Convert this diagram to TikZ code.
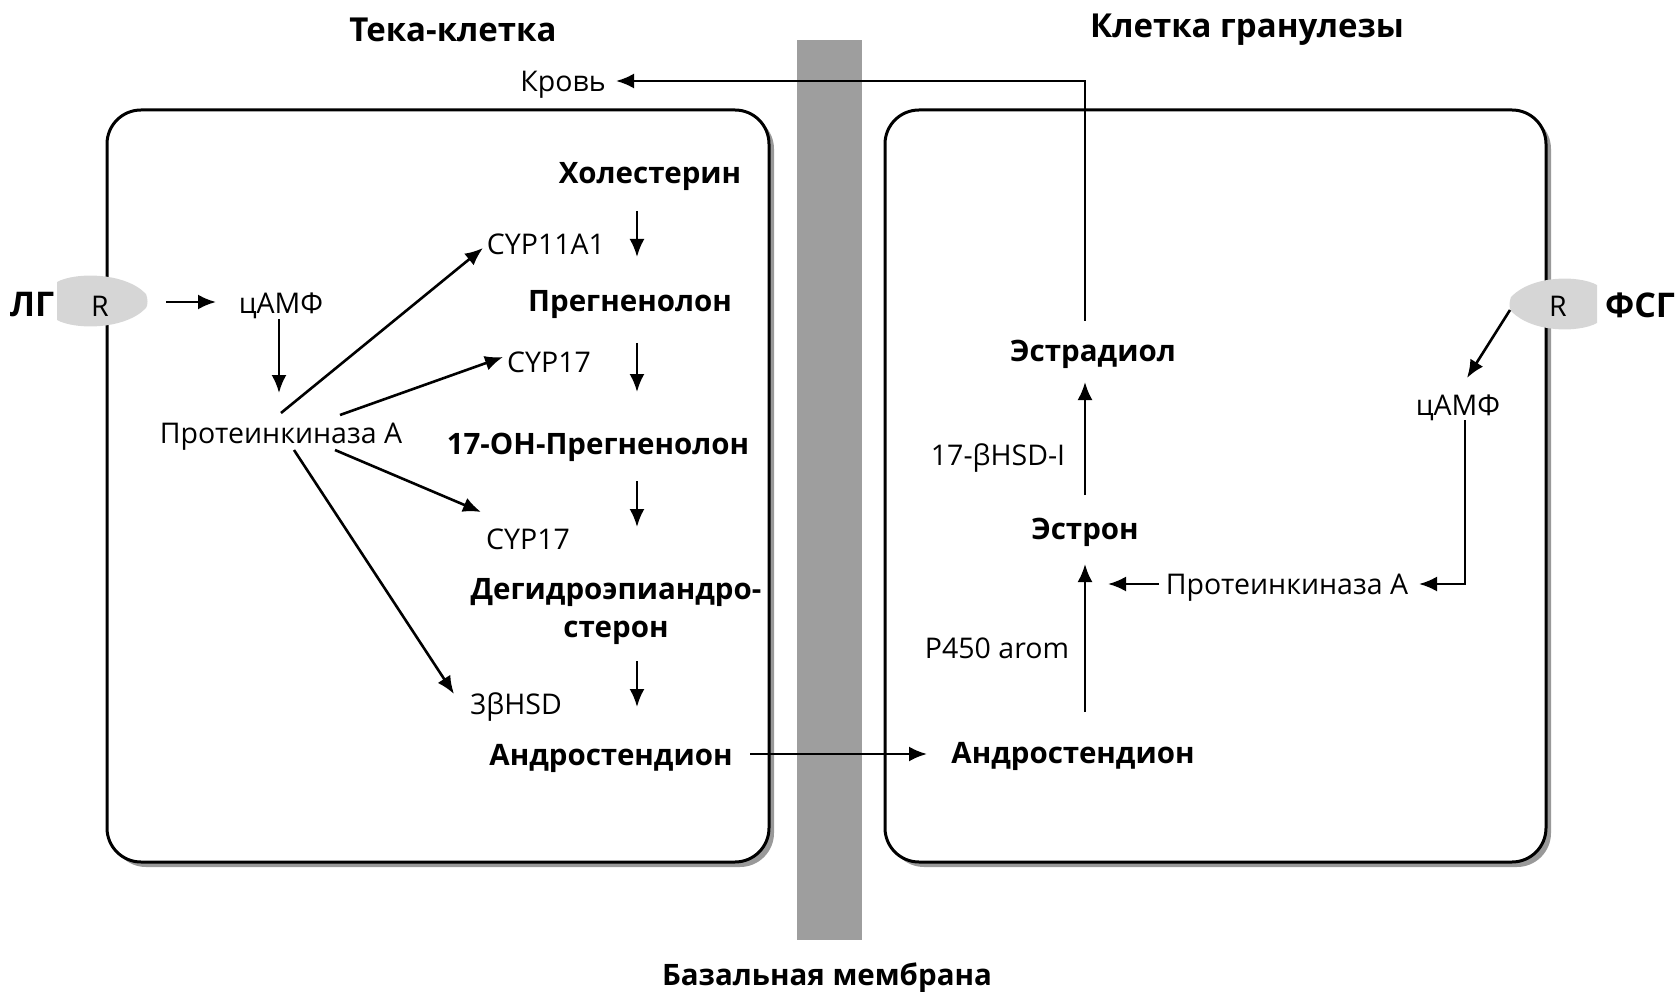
\documentclass[tikz,border=0pt]{standalone}
\usepackage{fontspec}
\setmainfont{Open Sans}
\usetikzlibrary{arrows.meta}
\begin{document}
\begin{tikzpicture}[x=1pt,y=-1pt,
  lbl/.style={font=\fontsize{28.5}{34}\selectfont, inner sep=0pt},
  met/.style={font=\fontsize{29.5}{38}\selectfont\bfseries, inner sep=0pt, align=center},
  ttl/.style={font=\fontsize{33}{38}\selectfont\bfseries, inner sep=0pt},
  hormone/.style={font=\fontsize{34}{38}\selectfont\bfseries, inner sep=0pt},
  arr/.style={line width=2.6pt, -{Latex[length=18pt,width=15pt]}},
  cell/.style={line width=3pt, rounded corners=34pt, fill=white},
  cellshadow/.style={fill=black!40, rounded corners=34pt},
  receptor/.style={fill=black!16},
]
\useasboundingbox (0,0) rectangle (1679,992);

% basal membrane
\fill[black!38] (797,40) rectangle (862,940);

% theca and granulosa cells with a drop shadow
\fill[cellshadow] (112,115) rectangle (774,867);
\draw[cell] (107,110) rectangle (769,862);
\fill[cellshadow] (890,115) rectangle (1551,867);
\draw[cell] (885,110) rectangle (1546,862);

% receptors in the cell membranes
\fill[receptor] (57,282) .. controls (75,272) and (125,272) .. (146,294)
  .. controls (148,299) and (148,305) .. (146,308)
  .. controls (125,330) and (75,330) .. (57,320) -- cycle;
\fill[receptor] (1597,285) .. controls (1579,275) and (1532,275) .. (1511,297)
  .. controls (1509,302) and (1509,308) .. (1511,311)
  .. controls (1532,333) and (1579,333) .. (1597,323) -- cycle;

% titles
\node[ttl] (tTheca) at (453,30) {Тека-клетка};
\node[ttl] (tGran) at (1247,30) {Клетка гранулезы};
\node[met] (tMemb) at (827,978) {Базальная мембрана};

% theca cell
\node[hormone] (lh) at (32,305) {ЛГ};
\node[lbl] (r1) at (100,306) {R};
\node[lbl] (camp1) at (281,306) {цАМФ};
\node[lbl] (pka1) at (281,437) {Протеинкиназа A};
\node[met] (chol) at (650,177) {Холестерин};
\node[lbl] (cyp11) at (546,244) {CYP11A1};
\node[met] (preg) at (630,305) {Прегненолон};
\node[lbl] (cyp17a) at (549,362) {CYP17};
\node[met] (ohpreg) at (598,447) {17-OH-Прегненолон};
\node[lbl] (cyp17b) at (528,539) {CYP17};
\node[met] (dhea) at (616,612) {Дегидроэпиандро-\\стерон};
\node[lbl] (hsd3) at (516,707) {3βHSD};
\node[met] (andro1) at (611,758) {Андростендион};
\node[lbl] (blood) at (563,85) {Кровь};

% granulosa cell
\node[met] (andro2) at (1073,756) {Андростендион};
\node[lbl] (p450) at (997,648) {P450 arom};
\node[met] (estrone) at (1085,532) {Эстрон};
\node[lbl] (hsd17) at (998,458) {17-βHSD-I};
\node[met] (estradiol) at (1093,354) {Эстрадиол};
\node[lbl] (pka2) at (1287,588) {Протеинкиназа A};
\node[lbl] (camp2) at (1458,408) {цАМФ};
\node[lbl] (r2) at (1558,306) {R};
\node[hormone] (fsh) at (1640,305) {ФСГ};

% arrow end points
\coordinate (lhA) at (166,302);   \coordinate (lhB) at (216,302);
\coordinate (c1A) at (279,319);   \coordinate (c1B) at (279,393);
\coordinate (kA) at (281,413);    \coordinate (kB) at (483,248);
\coordinate (kC) at (340,415);    \coordinate (kD) at (503,357);
\coordinate (kE) at (335,450);    \coordinate (kF) at (481,512);
\coordinate (kG) at (294,450);    \coordinate (kH) at (454,694);
\coordinate (s1A) at (637,211);   \coordinate (s1B) at (637,257);
\coordinate (s2A) at (637,343);   \coordinate (s2B) at (637,392);
\coordinate (s3A) at (637,481);   \coordinate (s3B) at (637,527);
\coordinate (s4A) at (637,661);   \coordinate (s4B) at (637,707);
\coordinate (trA) at (750,754);   \coordinate (trB) at (927,754);
\coordinate (e1A) at (1085,712);  \coordinate (e1B) at (1085,564);
\coordinate (e2A) at (1085,495);  \coordinate (e2B) at (1085,382);
\coordinate (blA) at (1085,321);  \coordinate (blC) at (1085,81);
\coordinate (blB) at (616,81);
\coordinate (fA) at (1510,310);   \coordinate (fB) at (1467,378);
\coordinate (c2A) at (1465,420);  \coordinate (c2C) at (1465,584);
\coordinate (c2B) at (1419,584);
\coordinate (pA) at (1159,584);   \coordinate (pB) at (1108,584);

% connectors
\draw[arr] (lhA) -- (lhB);
\draw[arr] (c1A) -- (c1B);
\draw[arr] (kA) -- (kB);
\draw[arr] (kC) -- (kD);
\draw[arr] (kE) -- (kF);
\draw[arr] (kG) -- (kH);
\draw[arr] (s1A) -- (s1B);
\draw[arr] (s2A) -- (s2B);
\draw[arr] (s3A) -- (s3B);
\draw[arr] (s4A) -- (s4B);
\draw[arr] (trA) -- (trB);
\draw[arr] (e1A) -- (e1B);
\draw[arr] (e2A) -- (e2B);
\draw[arr] (blA) -- (blC) -- (blB);
\draw[arr] (fA) -- (fB);
\draw[arr] (c2A) -- (c2C) -- (c2B);
\draw[arr] (pA) -- (pB);
\end{tikzpicture}
\end{document}
